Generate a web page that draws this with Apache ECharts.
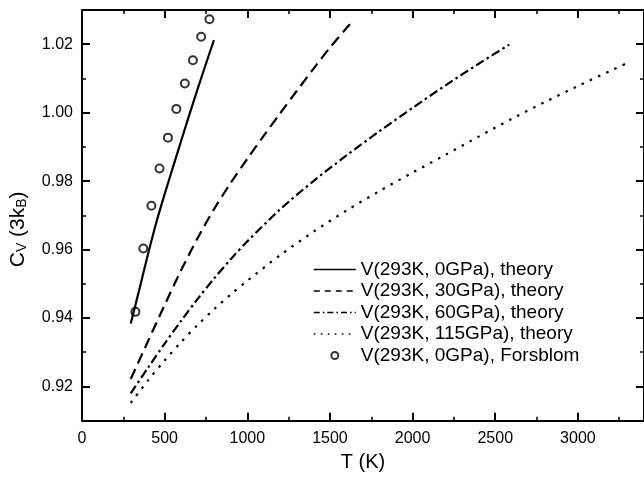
<!DOCTYPE html>
<html>
<head>
<meta charset="utf-8">
<script src="https://cdn.jsdelivr.net/npm/echarts@6/dist/echarts.min.js"></script>
<style>html,body{margin:0;padding:0;background:#fff}#c{width:644px;height:480px}</style>
</head>
<body>
<div id="c"></div>
<script>
// ---- data ----
const seriesNames = [
  'V(293K, 0GPa), theory',
  'V(293K, 30GPa), theory',
  'V(293K, 60GPa), theory',
  'V(293K, 115GPa), theory',
  'V(293K, 0GPa), Forsblom'
];
const T0 = [295, 350, 400, 450, 500, 550, 600, 650, 700, 750, 798];
const Cv0 = [0.9384, 0.9490, 0.9588, 0.9680, 0.9762, 0.9840, 0.9918, 0.9995, 1.0070, 1.0143, 1.0212];

const T30 = [295, 400, 500, 600, 700, 800, 900, 1000, 1100, 1200, 1300, 1400, 1500, 1600, 1645];
const Cv30 = [0.9222, 0.9333, 0.9438, 0.9540, 0.9634, 0.9719, 0.9795, 0.9865, 0.9933, 0.9999, 1.0064, 1.0128, 1.0190, 1.0247, 1.0270];

const T60 = [295, 400, 500, 600, 700, 800, 900, 1000, 1200, 1400, 1600, 1800, 2000, 2200, 2400, 2585];
const Cv60 = [0.9180, 0.9255, 0.9325, 0.9392, 0.9456, 0.9516, 0.9572, 0.9624, 0.9718, 0.9800, 0.9875, 0.9946, 1.0014, 1.0080, 1.0143, 1.0199];

const T115 = [295, 400, 500, 600, 700, 800, 900, 1000, 1200, 1400, 1600, 1800, 2000, 2200, 2400, 2600, 2800, 3000, 3200, 3310];
const Cv115 = [0.9152, 0.9218, 0.9276, 0.9330, 0.9380, 0.9426, 0.9469, 0.9509, 0.9584, 0.9652, 0.9714, 0.9771, 0.9825, 0.9877, 0.9930, 0.9982, 1.0031, 1.0078, 1.0123, 1.0148];

const Texp = [323, 371, 420, 469, 520, 571, 622, 671, 721, 771];
const CvExp = [0.9418, 0.9603, 0.9728, 0.9837, 0.9927, 1.0011, 1.0085, 1.0153, 1.0222, 1.0273];

// ---- axis ticks / labels ----
const xMajorTicks = [0, 500, 1000, 1500, 2000, 2500, 3000];
const xMinorTicks = [250, 750, 1250, 1750, 2250, 2750, 3250];
const xLabelText = ['0', '500', '1000', '1500', '2000', '2500', '3000'];
const yMajorTicks = [0.92, 0.94, 0.96, 0.98, 1.00, 1.02];
const yMinorTicks = [0.93, 0.95, 0.97, 0.99, 1.01];
const yLabelText = ['0.92', '0.94', '0.96', '0.98', '1.00', '1.02'];
const xRange = [0, 3400];
const yRange = [0.91, 1.03];

const pair = (xs, ys) => xs.map((x, i) => [x, ys[i]]);
const FONT = '"Liberation Sans", Arial, Helvetica, sans-serif';
const lookup = (ticks, texts, v) => {
  const i = ticks.findIndex(t => Math.abs(t - v) < 1e-9);
  return i >= 0 ? texts[i] : '';
};

function xAx(pos, ticks, len, showLine, opts) {
  return Object.assign({
    type: 'value', position: pos, min: xRange[0], max: xRange[1],
    splitLine: { show: false },
    axisLine: { show: showLine, onZero: false, lineStyle: { color: '#000', width: 2 } },
    axisTick: { show: true, inside: true, length: len, customValues: ticks, lineStyle: { color: '#000', width: len > 5 ? 2 : 1.5 } },
    axisLabel: { show: false }
  }, opts || {});
}
function yAx(pos, ticks, len, showLine, opts) {
  return Object.assign({
    type: 'value', position: pos, min: yRange[0], max: yRange[1],
    splitLine: { show: false },
    axisLine: { show: showLine, onZero: false, lineStyle: { color: '#000', width: 2 } },
    axisTick: { show: true, inside: true, length: len, customValues: ticks, lineStyle: { color: '#000', width: len > 5 ? 2 : 1.5 } },
    axisLabel: { show: false }
  }, opts || {});
}

const chart = echarts.init(document.getElementById('c'), null, { renderer: 'canvas' });

const lineCommon = (name, data, dash) => ({
  name, type: 'line', data, symbol: 'none', smooth: 0.3,
  lineStyle: { color: '#000', width: 2.2, type: dash, cap: 'butt' },
  itemStyle: { color: '#000' },
  emphasis: { disabled: true }, silent: true, animation: false
});

const legendLine = (name, dash) => ({
  name, itemStyle: { opacity: 0 },
  lineStyle: { color: '#000', width: 1.6, type: dash, cap: 'butt' }
});

chart.setOption({
  animation: false,
  textStyle: { fontFamily: FONT, color: '#000' },
  grid: { left: 82, top: 10, width: 568, height: 410.7, containLabel: false },
  xAxis: [
    xAx('bottom', xMajorTicks, 8, true, {
      axisLabel: { show: true, customValues: xMajorTicks, color: '#000', fontSize: 16, fontFamily: FONT, margin: 10,
        formatter: v => lookup(xMajorTicks, xLabelText, v) },
      name: 'T (K)', nameLocation: 'middle', nameGap: 32,
      nameTextStyle: { fontSize: 20, color: '#000', fontFamily: FONT }
    }),
    xAx('bottom', xMinorTicks, 4, false),
    xAx('top', xMajorTicks, 8, true),
    xAx('top', xMinorTicks, 4, false)
  ],
  yAxis: [
    yAx('left', yMajorTicks, 8, true, {
      axisLabel: { show: true, customValues: yMajorTicks, color: '#000', fontSize: 16, fontFamily: FONT, margin: 9,
        formatter: v => lookup(yMajorTicks, yLabelText, v) },
      name: '{a|C}{s|V}{a| (3k}{s|B}{a|)}', nameLocation: 'middle', nameGap: 53, nameRotate: 90,
      nameTextStyle: {
        color: '#000', fontFamily: FONT, padding: [0, 28, 0, 0],
        rich: {
          a: { fontSize: 21, fontFamily: FONT, color: '#000', lineHeight: 28, verticalAlign: 'bottom' },
          s: { fontSize: 14, fontFamily: FONT, color: '#000', lineHeight: 16, verticalAlign: 'bottom' }
        }
      }
    }),
    yAx('left', yMinorTicks, 4, false),
    yAx('right', yMajorTicks, 8, true),
    yAx('right', yMinorTicks, 4, false)
  ],
  legend: {
    orient: 'vertical', left: 313, top: 260, padding: 0, itemWidth: 42, itemHeight: 7, itemGap: 2.5,
    textStyle: { fontSize: 19, color: '#000', fontFamily: FONT },
    data: [
      legendLine(seriesNames[0], 'solid'),
      legendLine(seriesNames[1], [6, 5]),
      legendLine(seriesNames[2], [6, 3, 1.6, 3]),
      legendLine(seriesNames[3], [1.6, 5.4]),
      { name: seriesNames[4], icon: 'emptyCircle' }
    ],
    selectedMode: false
  },
  series: [
    lineCommon(seriesNames[0], pair(T0, Cv0), 'solid'),
    lineCommon(seriesNames[1], pair(T30, Cv30), [11, 6]),
    lineCommon(seriesNames[2], pair(T60, Cv60), [9, 3.5, 2.5, 3.5]),
    lineCommon(seriesNames[3], pair(T115, Cv115), [2.5, 6.5]),
    {
      name: seriesNames[4], type: 'scatter', data: pair(Texp, CvExp),
      symbol: 'emptyCircle', symbolSize: 8,
      itemStyle: { color: '#000', borderWidth: 1.3 },
      emphasis: { disabled: true }, silent: true
    }
  ]
});
</script>
</body>
</html>
